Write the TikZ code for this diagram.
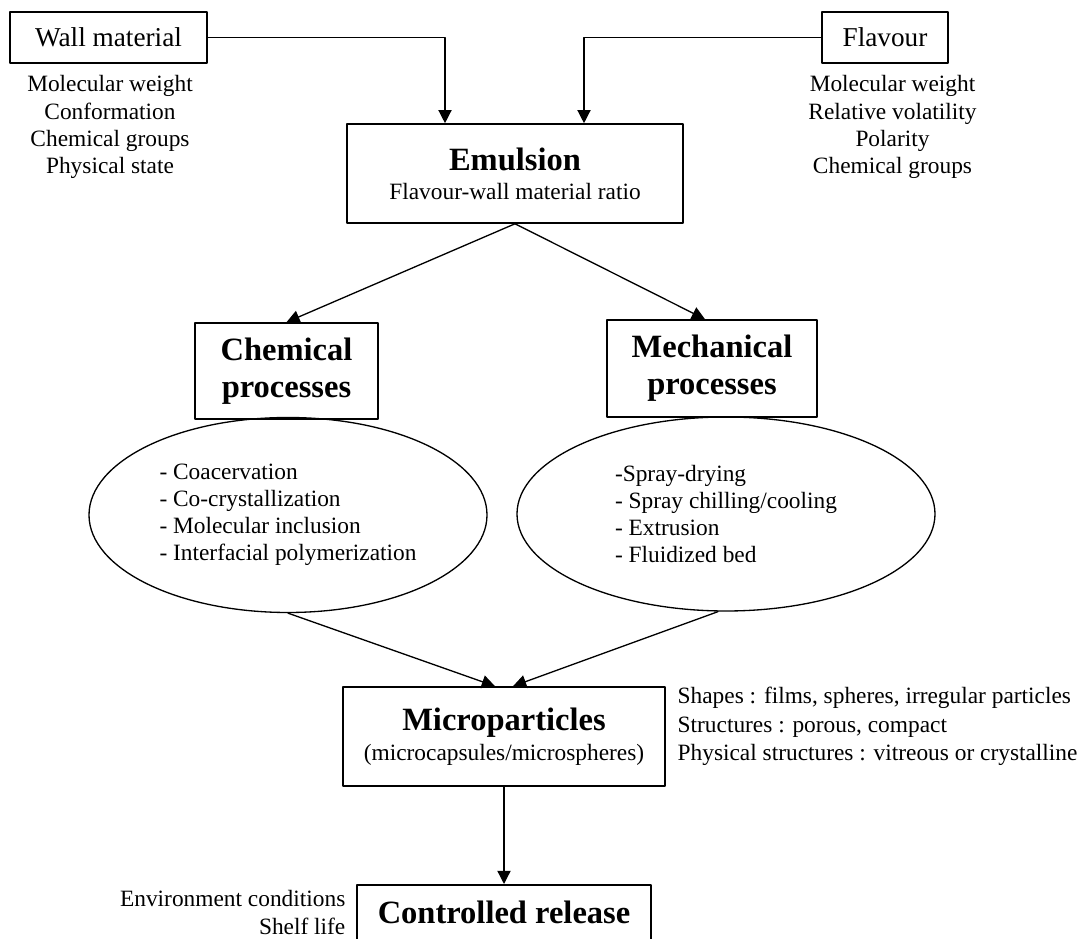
\documentclass[tikz,border=0pt]{standalone}
\usepackage{fontspec}
\setmainfont{Liberation Serif}
\usetikzlibrary{arrows.meta,shapes.geometric}

\begin{document}
\begin{tikzpicture}[x=1cm,y=1cm,line cap=round,line join=round,line width=0.75pt,
    >={Triangle[length=7.5pt,width=7.5pt]},
    box/.style={draw,line width=0.9pt,inner sep=0pt,align=center},
    txt/.style={inner sep=0pt,align=center,font=\fontsize{13.3pt}{15.4pt}\selectfont},
    head/.style={font=\fontsize{18.5pt}{21pt}\selectfont\bfseries},
    title/.style={font=\fontsize{15.5pt}{18pt}\selectfont},
    listbubble/.style={ellipse,draw,inner sep=0pt,txt,align=left}]
  % Page frame
  \useasboundingbox (0,0) rectangle (21.56,18.76);
  \clip (0,0) rectangle (21.56,18.76);

  % Inputs and their properties
  \node[box,title,minimum width=3.94cm,minimum height=1.02cm] (wall) at (2.17,18.01) {Wall material};
  \node[box,title,minimum width=2.52cm,minimum height=1.02cm] (flavour) at (17.70,18.01) {Flavour};
  \node[txt] (wallprops) at (2.20,16.22) {Molecular weight\\Conformation\\Chemical groups\\Physical state};
  \node[txt] (flavprops) at (17.85,16.22) {Molecular weight\\Relative volatility\\Polarity\\Chemical groups};

  % Emulsion
  \node[box,txt,minimum width=6.72cm,minimum height=1.98cm] (emulsion) at (10.30,15.29)
    {{\fontsize{18.5pt}{21pt}\selectfont\bfseries Emulsion}\\[1pt]Flavour-wall material ratio};
  \draw[->] (wall.east) -| ([xshift=-1.4cm]emulsion.north);
  \draw[->] (flavour.west) -| ([xshift=1.38cm]emulsion.north);

  % Two process families
  \node[box,head,minimum width=3.66cm,minimum height=1.92cm] (chem) at (5.73,11.34) {Chemical\\processes};
  \node[box,head,minimum width=4.20cm,minimum height=1.94cm] (mech) at (14.24,11.39) {Mechanical\\processes};
  \draw[->] (emulsion.south) -- (chem.north);
  \draw[->] (emulsion.south) -- ([xshift=-0.14cm]mech.north);

  \node[listbubble,minimum width=7.96cm,minimum height=3.90cm] (chemlist) at (5.76,8.46)
    {- Coacervation\\- Co-crystallization\\- Molecular inclusion\\- Interfacial polymerization};
  \node[listbubble,minimum width=8.36cm,minimum height=3.88cm] (mechlist) at (14.52,8.48)
    {-Spray-drying\\- Spray chilling/cooling\\- Extrusion\\- Fluidized bed};

  % Microparticles
  \node[box,txt,minimum width=6.44cm,minimum height=1.98cm] (micro) at (10.08,4.03)
    {{\fontsize{18.5pt}{21pt}\selectfont\bfseries Microparticles}\\[1.6pt](microcapsules/microspheres)};
  \draw[->] (chemlist.south) -- ([xshift=-0.18cm]micro.north);
  \draw[->] ([xshift=-0.16cm]mechlist.south) -- ([xshift=0.18cm]micro.north);
  \node[txt,align=left,anchor=west,font=\fontsize{13.3pt}{16.2pt}\selectfont] (microprops) at (13.54,4.23)
    {Shapes : films, spheres, irregular particles\\Structures : porous, compact\\Physical structures : vitreous or crystalline};

  % Controlled release, cut at the page edge
  \node[box,head,anchor=north,minimum width=5.88cm,text height=0.5cm,text depth=1cm,inner ysep=0.28cm] (release) at (10.08,1.08) {Controlled release};
  \draw[->] (micro.south) -- (release.north);
  \node[txt,align=right,anchor=east] (env) at (6.92,0.51) {Environment conditions\\Shelf life};
\end{tikzpicture}
\end{document}
